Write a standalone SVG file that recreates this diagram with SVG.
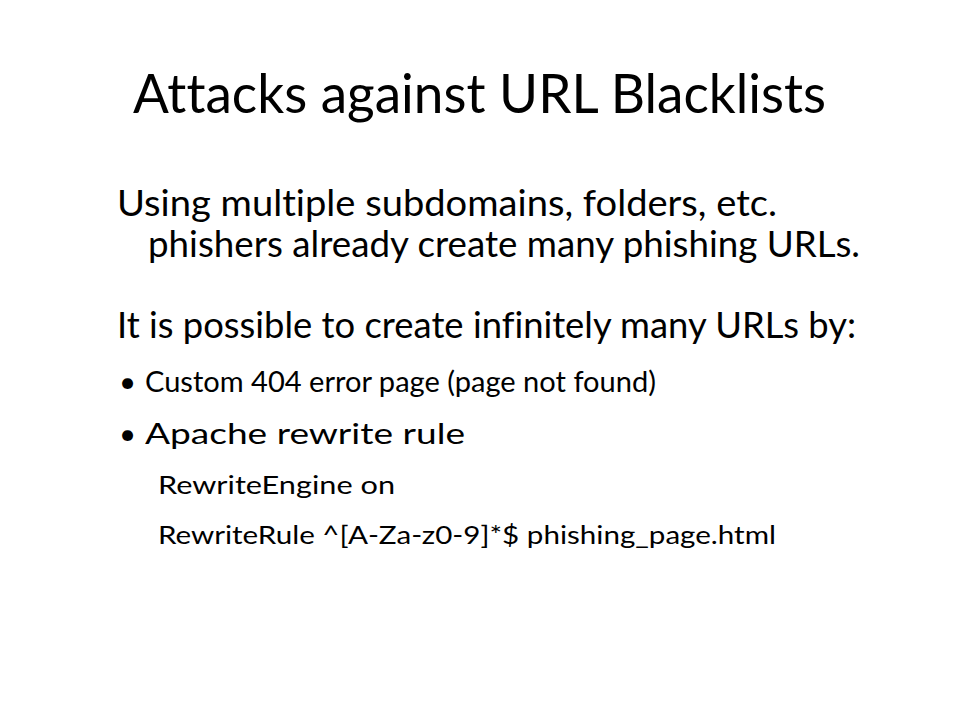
<svg xmlns="http://www.w3.org/2000/svg" width="960" height="720" viewBox="0 0 960 720">
<style>
text{font-family:Lato,"Open Sans","Liberation Sans",sans-serif;fill:#000;font-variant-ligatures:none;font-kerning:normal}
.t{font-size:54px}
.b1{font-size:36px}
.b2{font-size:29.5px}
.b3{font-size:24.5px}
</style>
<rect width="960" height="720" fill="#fff"/>
<g id="title">
<text class="t" x="133" y="113" textLength="693" lengthAdjust="spacingAndGlyphs">Attacks against URL Blacklists</text>
</g>
<g id="body">
<text class="b1" x="117" y="216" textLength="660" lengthAdjust="spacingAndGlyphs">Using multiple subdomains, folders, etc.</text>
<text class="b1" x="148" y="257" textLength="712" lengthAdjust="spacingAndGlyphs">phishers already create many phishing URLs.</text>
<text class="b1" x="117" y="338" textLength="739" lengthAdjust="spacingAndGlyphs">It is possible to create infinitely many URLs by:</text>
<text class="b2" x="119" y="392">•</text>
<text class="b2" x="145" y="392" textLength="511" lengthAdjust="spacingAndGlyphs">Custom 404 error page (page not found)</text>
<text class="b2" x="119" y="444">•</text>
<text class="b2" x="145" y="444" textLength="320" lengthAdjust="spacingAndGlyphs">Apache rewrite rule</text>
<text class="b3" x="158" y="494" textLength="237" lengthAdjust="spacingAndGlyphs">RewriteEngine on</text>
<text class="b3" x="158" y="544" textLength="618" lengthAdjust="spacingAndGlyphs">RewriteRule ^[A-Za-z0-9]*$ phishing_page.html</text>
</g>
</svg>
